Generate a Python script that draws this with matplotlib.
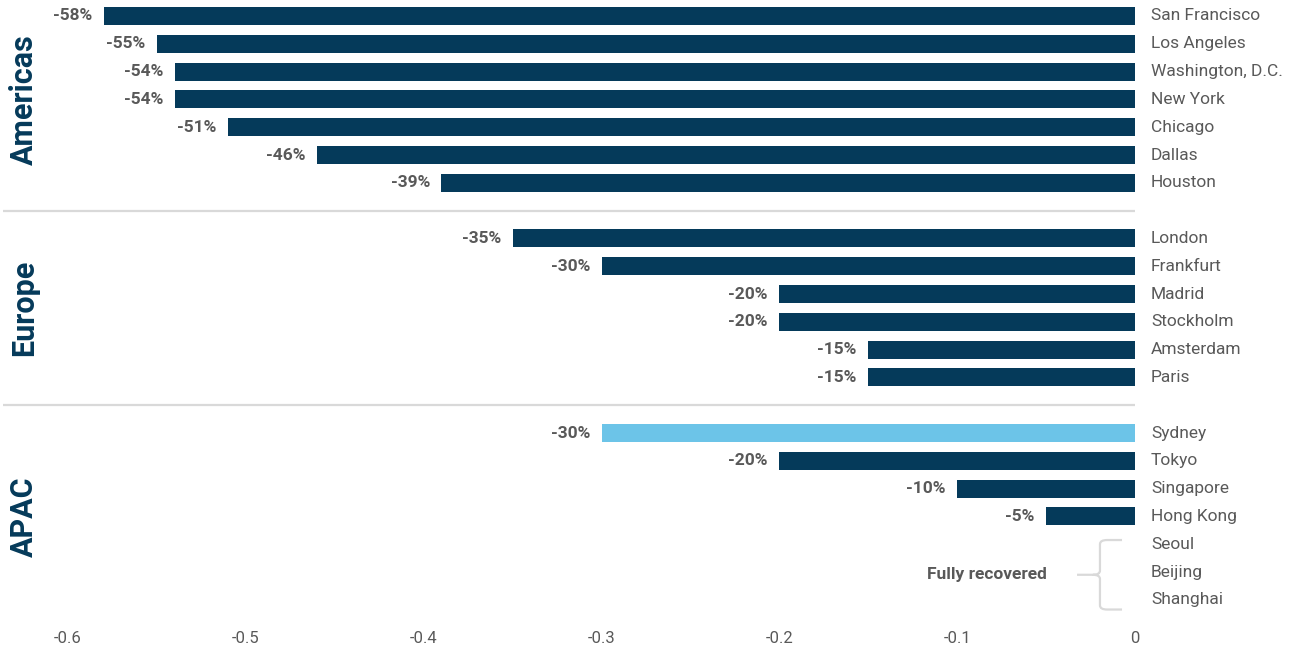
import numpy as np
import matplotlib.pyplot as plt
from matplotlib.path import Path
from matplotlib.patches import PathPatch

plt.rcParams['font.family'] = ['Roboto', 'DejaVu Sans']

# Variação da ocupação de escritórios por cidade (vs. pré-pandemia)
americas_cidades = ['San Francisco', 'Los Angeles', 'Washington, D.C.', 'New York',
                    'Chicago', 'Dallas', 'Houston']
americas_valores = [-0.58, -0.55, -0.54, -0.54, -0.51, -0.46, -0.39]

europa_cidades = ['London', 'Frankfurt', 'Madrid', 'Stockholm', 'Amsterdam', 'Paris']
europa_valores = [-0.35, -0.30, -0.20, -0.20, -0.15, -0.15]

apac_cidades = ['Sydney', 'Tokyo', 'Singapore', 'Hong Kong']
apac_valores = [-0.30, -0.20, -0.10, -0.05]
recuperadas = ['Seoul', 'Beijing', 'Shanghai']

regioes = ['Americas', 'Europe', 'APAC']
destaque = 'Sydney'

AZUL = '#053a5a'
AZUL_CLARO = '#6cc4e8'
CINZA_TXT = '#595959'
CINZA_LINHA = '#d9d9d9'

fig = plt.figure(figsize=(12.99, 6.51), dpi=100)
ax = fig.add_axes([3 / 1299, 31 / 651, 1132 / 1299, 620 / 651])

# Posições das linhas: cada separador ocupa uma linha vazia
grupos = [(americas_cidades, americas_valores),
          (europa_cidades, europa_valores),
          (apac_cidades + recuperadas, apac_valores)]
pos = 0
separadores = []
centros = []
for i, (cidades, valores) in enumerate(grupos):
    inicio = pos
    for j, cidade in enumerate(cidades):
        ax.text(0.009, pos, cidade, ha='left', va='center', fontsize=12.5,
                color=CINZA_TXT, clip_on=False)
        if j < len(valores):
            v = valores[j]
            cor = AZUL_CLARO if cidade == destaque else AZUL
            ax.barh(pos, v, height=0.65, color=cor)
            ax.text(v - 0.0065, pos, f'{v * 100:.0f}%', ha='right', va='center',
                    fontsize=12.5, fontweight='bold', color=CINZA_TXT)
        pos += 1
    centros.append((inicio + pos - 1) / 2)
    if i < len(grupos) - 1:
        separadores.append(pos)
        pos += 1

for s in separadores:
    ax.axhline(s, color=CINZA_LINHA, lw=1.6, zorder=0)

for nome, c in zip(regioes, centros):
    ax.text(0.0185, c, nome, transform=ax.get_yaxis_transform(), rotation=90,
            ha='center', va='center', fontsize=22, fontweight='bold', color=AZUL)

# Chave "Fully recovered"
y_top, y_bot = pos - 3 - 0.15, pos - 1 + 0.35
y_mid = (y_top + y_bot) / 2
xv, xr, xl = -0.0197, -0.0073, -0.0326
r = 0.004
verts = [(xr, y_top), (xv + r, y_top), (xv, y_top), (xv, y_top + 0.15),
         (xv, y_mid - 0.15), (xv, y_mid), (xv - r, y_mid), (xl, y_mid),
         (xv - r, y_mid), (xv, y_mid), (xv, y_mid + 0.15),
         (xv, y_bot - 0.15), (xv, y_bot), (xv + r, y_bot), (xr, y_bot)]
codes = [Path.MOVETO, Path.LINETO, Path.CURVE3, Path.CURVE3,
         Path.LINETO, Path.CURVE3, Path.CURVE3, Path.LINETO,
         Path.MOVETO, Path.CURVE3, Path.CURVE3,
         Path.LINETO, Path.CURVE3, Path.CURVE3, Path.LINETO]
ax.add_patch(PathPatch(Path(verts, codes), fill=False, ec=CINZA_LINHA, lw=1.6,
                       capstyle='butt'))
ax.text(xl - 0.017, y_mid, 'Fully recovered', ha='right', va='center',
        fontsize=12.5, fontweight='bold', color=CINZA_TXT)

ax.set_xlim(-0.6 - 65 / 1777, 0)
ax.set_ylim(pos - 1 + (620 - 16 - 27.8 * (pos - 1)) / 27.8, -16 / 27.8)
ax.set_xticks([-0.6, -0.5, -0.4, -0.3, -0.2, -0.1, 0])
ax.set_xticklabels(['-0.6', '-0.5', '-0.4', '-0.3', '-0.2', '-0.1', '0'])
ax.set_yticks([])
ax.tick_params(axis='x', length=0, pad=8, labelsize=12, labelcolor=CINZA_TXT)
for sp in ax.spines.values():
    sp.set_visible(False)

fig.savefig('out.png', dpi=100)
